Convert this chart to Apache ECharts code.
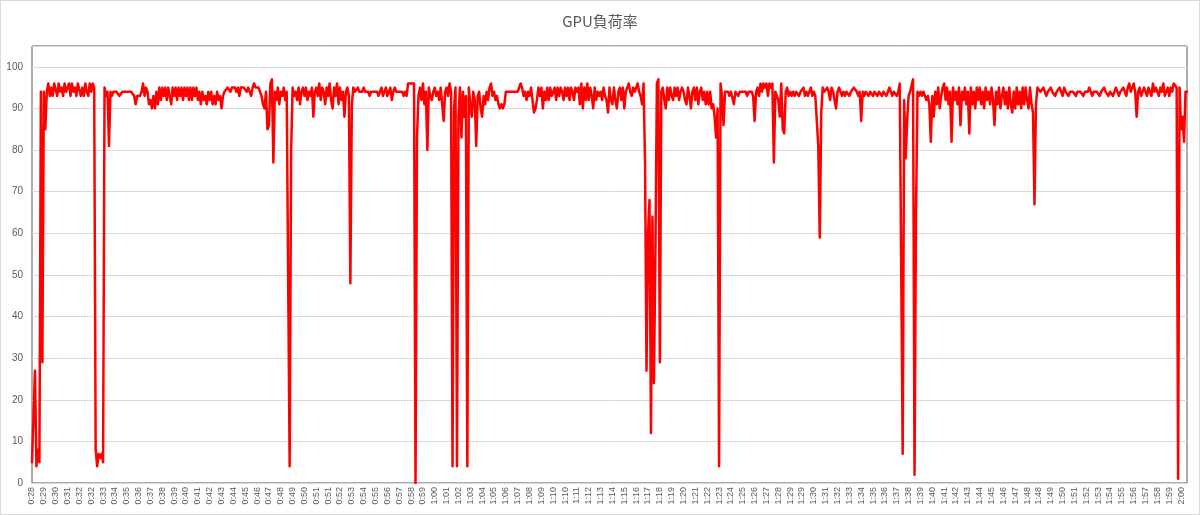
<!DOCTYPE html>
<html>
<head>
<meta charset="utf-8">
<script src="https://cdn.jsdelivr.net/npm/echarts@6/dist/echarts.min.js"></script>
<style>
html,body{margin:0;padding:0;background:#fff;}
#chart{width:1200px;height:515px;box-sizing:border-box;border:1px solid #d9d9d9;}
</style>
</head>
<body>
<div id="chart"></div>
<script>
// Tick labels (one every 8 samples)
var tickLabels = ['0:28','0:29','0:30','0:31','0:32','0:32','0:33','0:34','0:35','0:36','0:37','0:38','0:39','0:40','0:41','0:42','0:43','0:44','0:45','0:46','0:47','0:48','0:49','0:50','0:51','0:51','0:52','0:53','0:54','0:55','0:56','0:57','0:58','0:59','1:00','1:01','1:02','1:03','1:04','1:05','1:06','1:07','1:08','1:09','1:10','1:10','1:11','1:12','1:13','1:14','1:15','1:16','1:17','1:18','1:19','1:20','1:21','1:22','1:23','1:24','1:25','1:26','1:27','1:28','1:29','1:29','1:30','1:31','1:32','1:33','1:34','1:35','1:36','1:37','1:38','1:39','1:40','1:41','1:42','1:43','1:44','1:45','1:46','1:47','1:48','1:48','1:49','1:50','1:51','1:52','1:53','1:54','1:55','1:56','1:57','1:58','1:59','2:00'];
var samplesPerLabel = 8;

// GPU load values (%)
var gpu0028 = [5,5,27,4,8,5,94,29, 94,85,94,96,93,95,93,96, 96,93,96,94,95,93,96,94, 95,96,93,96,94,95,93,96, 96,93,95,93,96,94,93,96, 94,96,95,8,4,7,6,7, 5,95,93,94,81,94,93,94, 94,94,94,93,93,94,94,94, 94,94,94,94,94,93,91,93, 93,93,94,96,93,95,94,91];
var gpu0037 = [92,90,93,90,94,91,95,92, 95,93,95,92,95,93,91,95, 93,95,92,95,93,95,92,95, 93,95,92,95,92,95,93,95, 92,94,91,94,92,93,91,94, 92,94,91,93,91,94,92,93, 90,93,94,94,95,95,94,95, 95,95,94,95,93,95,95,95, 95,94,95,95,93,95,96,95, 95,95,94,93,91,90,94,85];
var gpu0047 = [86,96,97,77,94,92,95,91, 94,93,95,92,94,94,4,80, 95,93,94,92,95,91,94,95, 93,95,92,94,93,95,88,94, 95,93,96,92,95,94,91,95, 93,96,92,90,95,93,96,91, 95,92,94,88,94,95,93,48, 91,95,94,94,95,94,94,94, 95,94,94,94,93,94,94,94, 94,94,93,94,95,93,94,95];
var gpu0056 = [93,94,95,92,94,95,94,94, 94,94,94,93,94,93,96,96, 96,96,96,0,83,93,95,92, 96,91,94,80,95,93,92,94, 95,93,94,92,95,91,87,94, 95,93,96,94,4,90,95,4, 88,95,83,94,88,93,4,95, 91,88,94,92,81,93,94,90, 88,93,91,94,92,95,96,93, 94,92,93,91,90,91,90,91];
var gpu0106 = [94,94,94,94,94,94,94,94, 94,94,96,95,93,94,92,94, 93,95,92,89,90,92,95,93, 95,90,94,92,95,92,95,93, 93,95,92,95,93,95,94,92, 95,93,95,92,95,94,92,95, 94,95,91,96,90,95,92,96, 92,95,93,90,95,92,94,93, 94,92,95,93,92,89,95,92, 91,95,92,90,94,95,92,95];
var gpu0115 = [90,94,95,96,94,93,95,94, 95,96,94,93,91,96,77,27, 60,68,12,64,24,55,96,97, 29,94,95,92,90,95,92,95, 93,92,95,93,95,92,94,95, 94,92,91,95,93,90,94,95, 92,95,91,94,95,92,94,91, 94,91,94,90,91,88,83,90, 4,96,93,86,94,94,94,93, 94,94,91,94,94,93,94,94];
var gpu0125 = [94,94,94,93,94,94,94,93, 87,94,95,93,96,94,96,95, 96,93,96,95,96,77,94,94, 92,88,96,85,84,94,95,93, 94,93,94,93,94,94,93,94, 94,95,93,94,93,94,95,93, 94,93,93,81,59,89,95,94, 94,95,94,92,95,94,94,90, 94,95,94,93,94,93,94,94, 93,94,94,95,95,94,93,94];
var gpu0134 = [87,94,93,94,94,93,94,94, 93,94,94,93,94,94,93,94, 94,93,94,95,94,93,94,94, 93,94,96,96,7,92,78,87, 93,94,94,97,2,65,94,93, 94,93,94,93,92,93,91,82, 93,88,94,91,95,90,93,95, 96,92,95,91,94,82,95,92, 94,91,95,86,94,92,95,91, 94,84,95,91,94,90,95,92];
var gpu0144 = [95,91,94,90,95,92,94,91, 95,92,86,94,91,95,90,93, 95,91,94,90,95,91,89,94, 90,95,91,94,90,95,91,95, 92,90,95,91,89,67,91,95, 95,94,94,95,94,93,94,94, 95,94,94,93,94,94,95,94, 93,95,94,94,93,94,94,94, 94,93,94,94,94,94,93,94, 94,94,95,94,93,94,94,94];
var gpu0153 = [94,93,94,94,95,94,94,93, 94,94,93,94,95,94,93,94, 94,95,94,93,95,96,94,95, 96,94,88,94,95,93,94,95, 94,93,95,94,93,96,94,95, 94,93,95,94,96,93,94,95, 93,95,94,96,96,95,1,95, 85,88,82,94,94];

var gpuLoad = [].concat(gpu0028, gpu0037, gpu0047, gpu0056, gpu0106, gpu0115, gpu0125, gpu0134, gpu0144, gpu0153);
var categories = gpuLoad.map(function (v, i) {
  return (i % samplesPerLabel === 0 && tickLabels[i / samplesPerLabel] !== undefined) ? tickLabels[i / samplesPerLabel] : '';
});

var chart = echarts.init(document.getElementById('chart'), null, {renderer: 'canvas'});
chart.setOption({
  animation: false,
  title: {
    text: 'GPU負荷率',
    left: 'center',
    top: 8,
    textStyle: {
      color: '#595959',
      fontSize: 15,
      fontWeight: 'normal',
      fontFamily: '"Noto Sans CJK JP", "Noto Sans", sans-serif'
    }
  },
  grid: {
    left: 31,
    right: 12,
    top: 45,
    bottom: 31,
    show: true,
    borderColor: '#595959',
    borderWidth: 1
  },
  xAxis: {
    type: 'category',
    data: categories,
    boundaryGap: false,
    axisLine: {show: true, lineStyle: {color: '#d9d9d9', width: 1}},
    axisTick: {show: false},
    splitLine: {show: false},
    axisLabel: {
      interval: function (idx) { return idx % samplesPerLabel === 0; },
      rotate: 90,
      margin: 4,
      color: '#595959',
      fontSize: 9,
      hideOverlap: false,
      fontFamily: '"Liberation Sans", sans-serif'
    }
  },
  yAxis: {
    type: 'value',
    min: 0,
    max: 105,
    interval: 10,
    axisLine: {show: false},
    axisTick: {show: false},
    splitLine: {show: true, lineStyle: {color: '#d9d9d9', width: 1}},
    axisLabel: {
      color: '#595959',
      fontSize: 10,
      margin: 9,
      fontFamily: '"Liberation Sans", sans-serif',
      formatter: function (v) { return v > 100 ? '' : String(v); }
    }
  },
  series: [{
    type: 'line',
    data: gpuLoad,
    symbol: 'none',
    silent: true,
    lineStyle: {color: '#ff0000', width: 2.5, join: 'round', cap: 'round'}
  }]
});
</script>
</body>
</html>
